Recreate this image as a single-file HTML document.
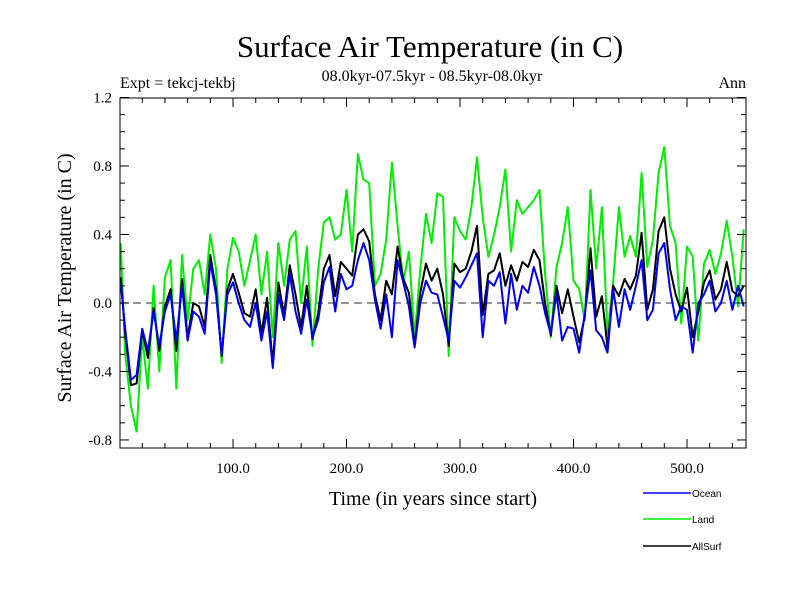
<!DOCTYPE html>
<html><head><meta charset="utf-8"><style>
body{margin:0;background:#fff;}
svg{display:block;font-family:"Liberation Serif",serif;}
</style></head><body>
<svg id="chart" width="800" height="600" xmlns="http://www.w3.org/2000/svg">
<text x="430" y="57" font-size="31" text-anchor="middle">Surface Air Temperature (in C)</text>
<text x="120" y="88" font-size="16">Expt = tekcj-tekbj</text>
<text x="432" y="81" font-size="16" text-anchor="middle">08.0kyr-07.5kyr - 08.5kyr-08.0kyr</text>
<text x="746" y="88" font-size="16" text-anchor="end">Ann</text>
<text transform="translate(71,278) rotate(-90)" font-size="20" text-anchor="middle">Surface Air Temperature (in C)</text>
<text x="433" y="505" font-size="20" text-anchor="middle">Time (in years since start)</text>
<g id="plot"></g>
<g id="axes"></g>
<g font-family="Liberation Sans, sans-serif" font-size="10">
<line x1="643" y1="493" x2="691" y2="493" stroke="#0000ff" stroke-width="1.5"/>
<text x="692" y="497">Ocean</text>
<line x1="643" y1="519" x2="691" y2="519" stroke="#00ee00" stroke-width="1.5"/>
<text x="692" y="523">Land</text>
<line x1="643" y1="546" x2="691" y2="546" stroke="#000" stroke-width="1.5"/>
<text x="692" y="550">AllSurf</text>
</g>
</svg>
<script>
const yearStart = 0;
const yearStep = 5;
const ocean = [0.12,-0.15,-0.45,-0.42,-0.15,-0.28,-0.05,-0.25,-0.05,0.05,-0.22,0.1,-0.22,-0.05,-0.08,-0.18,0.24,0.05,-0.3,0.05,0.12,0.0,-0.1,-0.14,0.0,-0.22,-0.05,-0.38,0.05,
-0.1,0.17,-0.05,-0.18,0.02,-0.2,-0.1,0.12,0.21,-0.05,0.17,0.08,0.1,0.25,0.35,0.25,0.02,-0.15,0.05,-0.2,0.25,0.12,-0.02,-0.26,0.0,0.13,0.06,
0.05,-0.08,-0.22,0.13,0.09,0.15,0.22,0.29,-0.2,0.13,0.1,0.18,-0.12,0.17,-0.04,0.1,0.06,0.21,0.1,-0.06,-0.18,0.06,-0.22,-0.14,-0.15,-0.29,-0.06,0.19,
-0.16,-0.2,-0.29,0.08,-0.14,0.08,-0.04,0.1,0.25,-0.1,-0.04,0.29,0.35,0.08,-0.1,-0.02,-0.04,-0.29,0.0,0.05,0.13,-0.05,0.0,0.13,-0.04,0.1,-0.02];
const land = [0.35,-0.3,-0.6,-0.75,-0.2,-0.5,0.1,-0.4,0.15,0.25,-0.5,0.28,-0.1,0.2,0.25,0.05,0.4,0.2,-0.35,0.2,0.38,0.3,0.1,0.25,0.4,0.05,0.3,-0.2,0.35,
0.1,0.37,0.42,0.0,0.33,-0.25,0.2,0.47,0.5,0.37,0.4,0.66,0.3,0.87,0.72,0.7,0.1,0.17,0.37,0.82,0.45,0.12,0.3,-0.2,0.2,0.52,0.35,
0.64,0.62,-0.31,0.5,0.42,0.37,0.56,0.85,0.5,0.27,0.4,0.56,0.78,0.3,0.6,0.52,0.56,0.6,0.66,0.17,-0.2,0.21,0.35,0.56,0.13,0.08,-0.1,0.66,
0.2,0.56,-0.18,0.13,0.56,0.27,0.39,0.27,0.76,0.21,0.37,0.76,0.91,0.45,0.35,-0.12,0.33,0.27,-0.22,0.23,0.31,0.17,0.29,0.48,0.27,-0.02,0.43];
const allSurf = [0.15,-0.18,-0.48,-0.47,-0.16,-0.32,-0.03,-0.28,-0.02,0.08,-0.28,0.14,-0.2,0.0,-0.02,-0.14,0.28,0.08,-0.31,0.08,0.17,0.06,-0.06,-0.08,0.08,-0.18,0.03,-0.36,0.12,
-0.07,0.22,0.05,-0.14,0.1,-0.21,-0.06,0.2,0.28,0.04,0.24,0.2,0.16,0.4,0.43,0.36,0.05,-0.1,0.13,0.05,0.33,0.14,0.06,-0.25,0.06,0.23,0.13,
0.2,0.05,-0.25,0.23,0.18,0.2,0.3,0.45,-0.07,0.17,0.19,0.29,0.1,0.22,0.13,0.24,0.21,0.31,0.25,0.0,-0.19,0.1,-0.06,0.08,-0.08,-0.23,-0.08,0.32,
-0.08,0.04,-0.26,0.1,0.04,0.14,0.08,0.16,0.41,-0.04,0.08,0.42,0.5,0.2,0.05,-0.05,0.09,-0.2,-0.05,0.12,0.19,0.02,0.08,0.24,0.07,0.04,0.1];
const yTickValues = [-0.8,-0.4,0.0,0.4,0.8,1.2];
const yTickLabels = ["-0.8","-0.4","0.0","0.4","0.8","1.2"];
const xTickValues = [100,200,300,400,500];
const xTickLabels = ["100.0","200.0","300.0","400.0","500.0"];

const NS="http://www.w3.org/2000/svg";
const L=120,R=746,T=98,B=448;
const X0=0.4,X1=552,Y0=-0.847,Y1=1.197;
function sx(v){return L+(v-X0)/(X1-X0)*(R-L);}
function sy(v){return B-(v-Y0)/(Y1-Y0)*(B-T);}
const plot=document.getElementById('plot');
const axes=document.getElementById('axes');
function mk(tag,attrs,parent){const e=document.createElementNS(NS,tag);for(const k in attrs)e.setAttribute(k,attrs[k]);parent.appendChild(e);return e;}

const zl=mk('line',{x1:L,x2:R,y1:sy(0),y2:sy(0),stroke:'#555','stroke-width':1.2,'stroke-dasharray':'8,5'},plot);



function series(vals,color,name){
  let d='';
  vals.forEach((v,i)=>{const yr=yearStart+i*yearStep;d+=(i?'L':'M')+sx(Math.max(yr,1)).toFixed(1)+','+sy(v).toFixed(1);});
  const p=mk('path',{d:d,fill:'none',stroke:color,'stroke-width':2,'stroke-linejoin':'round'},plot);
  
  
}
series(land,'#00ee00','land-series');
series(allSurf,'#000000','allsurf-series');
series(ocean,'#0000ee','ocean-series');

const frame=mk('rect',{x:L,y:T,width:R-L,height:B-T,fill:'none',stroke:'#000','stroke-width':1},axes);



for(let k=-8;k<=12;k++){
  const v=k/10,y=sy(v),major=(k%4===0),len=major?9:5;
  mk('line',{x1:L,x2:L+len,y1:y,y2:y,stroke:'#000'},axes);
  mk('line',{x1:R,x2:R-len,y1:y,y2:y,stroke:'#000'},axes);
}
yTickValues.forEach((v,i)=>{
  const t=mk('text',{x:L-8,y:sy(v)+5,'font-size':15,'text-anchor':'end'},axes);
  t.textContent=yTickLabels[i];
  
  
});
for(let yr=20;yr<=540;yr+=20){
  const x=sx(yr),major=(yr%100===0),len=major?9:5;
  mk('line',{x1:x,x2:x,y1:B,y2:B-len,stroke:'#000'},axes);
  mk('line',{x1:x,x2:x,y1:T,y2:T+len,stroke:'#000'},axes);
}
xTickValues.forEach((v,i)=>{
  const t=mk('text',{x:sx(v),y:B+25,'font-size':15,'text-anchor':'middle'},axes);
  t.textContent=xTickLabels[i];
  
  
});
</script>
</body></html>
